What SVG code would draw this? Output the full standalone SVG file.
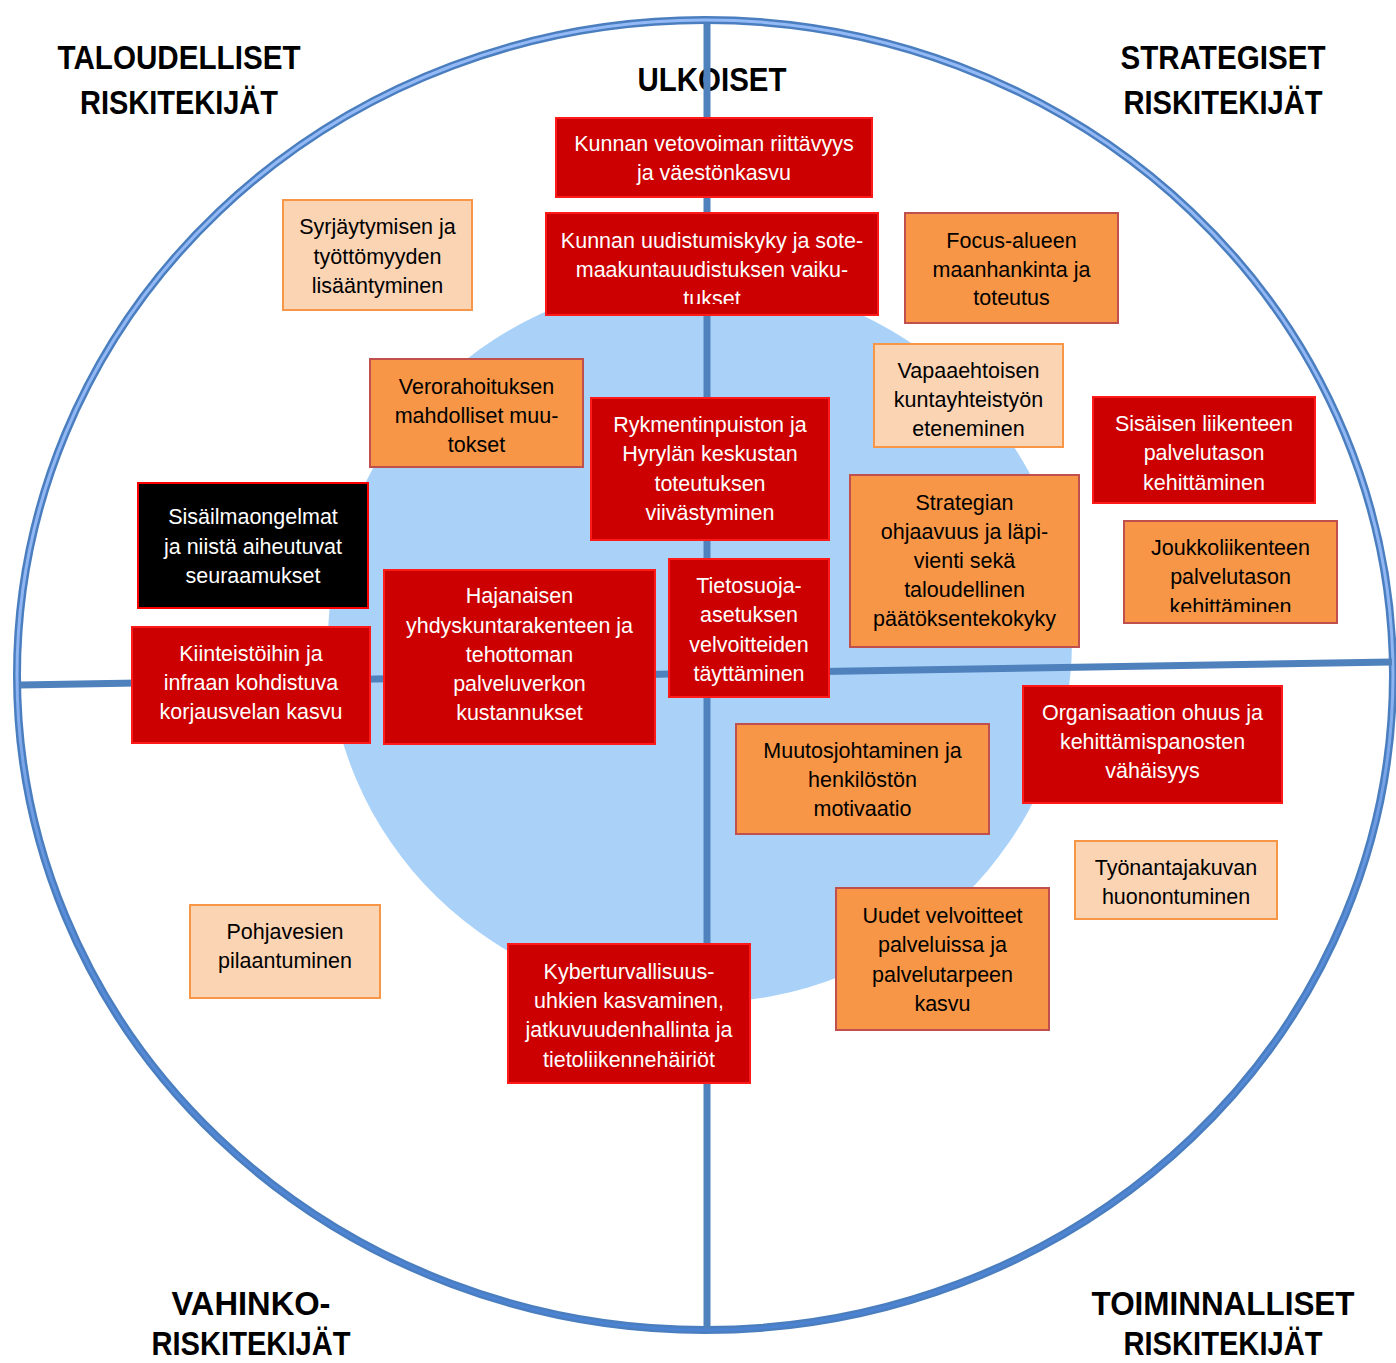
<svg xmlns="http://www.w3.org/2000/svg" width="1396" height="1363" viewBox="0 0 1396 1363">
<defs>
<linearGradient id="ringIn" x1="0" y1="0" x2="0" y2="1">
<stop offset="0" stop-color="#94b9f7"/>
<stop offset="0.5" stop-color="#8fb5f3"/>
<stop offset="0.68" stop-color="#5a8edb"/>
<stop offset="1" stop-color="#4b82d2"/>
</linearGradient>
<clipPath id="c2"><rect x="545" y="212" width="334" height="92"/></clipPath>
<clipPath id="c11"><rect x="1123" y="520" width="215" height="92"/></clipPath>
</defs>
<style>
text{font-family:"Liberation Sans",Arial,sans-serif;text-anchor:middle}
.n{font-size:21.5px}
.w{fill:#ffffff}
.k{fill:#000000}
.h{font-size:33px;font-weight:bold;fill:#000}
.red{fill:#cc0000;stroke:#ff1a1a;stroke-width:2}
.org{fill:#f79646;stroke:#c0504d;stroke-width:2}
.pch{fill:#fbd4b4;stroke:#f79646;stroke-width:2}
.blk{fill:#000000;stroke:#ff0000;stroke-width:2}
.axis{stroke:#4f81bd;stroke-width:7;fill:none}
</style>
<rect width="1396" height="1363" fill="#ffffff"/>
<g id="background">
<ellipse cx="700" cy="641" rx="372" ry="362" fill="#aad2f9"/>
<ellipse cx="705" cy="675" rx="688" ry="655" fill="none" stroke="#4a7ebf" stroke-width="8"/>
<ellipse cx="705" cy="675" rx="688" ry="655" fill="none" stroke="url(#ringIn)" stroke-width="3"/>
</g>
<g id="headings">
<text class="h" x="179" y="69" textLength="243" lengthAdjust="spacingAndGlyphs">TALOUDELLISET</text>
<text class="h" x="179" y="114" textLength="198" lengthAdjust="spacingAndGlyphs">RISKITEKIJÄT</text>
<text class="h" x="712" y="91" textLength="149" lengthAdjust="spacingAndGlyphs">ULKOISET</text>
<text class="h" x="1223" y="69" textLength="205" lengthAdjust="spacingAndGlyphs">STRATEGISET</text>
<text class="h" x="1223" y="114" textLength="199" lengthAdjust="spacingAndGlyphs">RISKITEKIJÄT</text>
<text class="h" x="251" y="1315" textLength="159" lengthAdjust="spacingAndGlyphs">VAHINKO-</text>
<text class="h" x="251" y="1355" textLength="199" lengthAdjust="spacingAndGlyphs">RISKITEKIJÄT</text>
<text class="h" x="1223" y="1315" textLength="263" lengthAdjust="spacingAndGlyphs">TOIMINNALLISET</text>
<text class="h" x="1223" y="1355" textLength="199" lengthAdjust="spacingAndGlyphs">RISKITEKIJÄT</text>
</g>
<g id="connectors">
<line class="axis" x1="707" y1="24" x2="707" y2="1329"/>
<line class="axis" x1="20" y1="685" x2="1392" y2="662"/>
</g>
<g id="n1"><rect class="red" x="556" y="118" width="316" height="79"/>
<text class="n w" x="714" y="151">Kunnan vetovoiman riittävyys</text>
<text class="n w" x="714" y="180">ja väestönkasvu</text></g>
<g id="n2"><rect class="red" x="546" y="213" width="332" height="102"/>
<g clip-path="url(#c2)">
<text class="n w" x="712" y="248">Kunnan uudistumiskyky ja sote-</text>
<text class="n w" x="712" y="277">maakuntauudistuksen vaiku-</text>
<text class="n w" x="712" y="306">tukset</text></g></g>
<g id="n3"><rect class="pch" x="283" y="200" width="189" height="110"/>
<text class="n k" x="377.5" y="234">Syrjäytymisen ja</text>
<text class="n k" x="377.5" y="264">työttömyyden</text>
<text class="n k" x="377.5" y="293">lisääntyminen</text></g>
<g id="n4"><rect class="org" x="905" y="213" width="213" height="110"/>
<text class="n k" x="1011.5" y="248">Focus-alueen</text>
<text class="n k" x="1011.5" y="277">maanhankinta ja</text>
<text class="n k" x="1011.5" y="305">toteutus</text></g>
<g id="n5"><rect class="pch" x="874" y="344" width="189" height="103"/>
<text class="n k" x="968.5" y="378">Vapaaehtoisen</text>
<text class="n k" x="968.5" y="407">kuntayhteistyön</text>
<text class="n k" x="968.5" y="436">eteneminen</text></g>
<g id="n6"><rect class="org" x="370" y="359" width="213" height="108"/>
<text class="n k" x="476.5" y="394">Verorahoituksen</text>
<text class="n k" x="476.5" y="423">mahdolliset muu-</text>
<text class="n k" x="476.5" y="452">tokset</text></g>
<g id="n7"><rect class="red" x="591" y="398" width="238" height="142"/>
<text class="n w" x="710" y="432">Rykmentinpuiston ja</text>
<text class="n w" x="710" y="461">Hyrylän keskustan</text>
<text class="n w" x="710" y="491">toteutuksen</text>
<text class="n w" x="710" y="520">viivästyminen</text></g>
<g id="n8"><rect class="red" x="1093" y="397" width="222" height="106"/>
<text class="n w" x="1204" y="431">Sisäisen liikenteen</text>
<text class="n w" x="1204" y="460">palvelutason</text>
<text class="n w" x="1204" y="490">kehittäminen</text></g>
<g id="n9"><rect class="blk" x="138" y="483" width="230" height="125"/>
<text class="n w" x="253" y="524">Sisäilmaongelmat</text>
<text class="n w" x="253" y="554">ja niistä aiheutuvat</text>
<text class="n w" x="253" y="583">seuraamukset</text></g>
<g id="n10"><rect class="org" x="850" y="475" width="229" height="172"/>
<text class="n k" x="964.5" y="510">Strategian</text>
<text class="n k" x="964.5" y="539">ohjaavuus ja läpi-</text>
<text class="n k" x="964.5" y="568">vienti sekä</text>
<text class="n k" x="964.5" y="597">taloudellinen</text>
<text class="n k" x="964.5" y="626">päätöksentekokyky</text></g>
<g id="n11"><rect class="org" x="1124" y="521" width="213" height="102"/>
<g clip-path="url(#c11)">
<text class="n k" x="1230.5" y="555">Joukkoliikenteen</text>
<text class="n k" x="1230.5" y="584">palvelutason</text>
<text class="n k" x="1230.5" y="614">kehittäminen</text></g></g>
<g id="n12"><rect class="red" x="669" y="559" width="160" height="138"/>
<text class="n w" x="749" y="593">Tietosuoja-</text>
<text class="n w" x="749" y="622">asetuksen</text>
<text class="n w" x="749" y="652">velvoitteiden</text>
<text class="n w" x="749" y="681">täyttäminen</text></g>
<g id="n13"><rect class="red" x="384" y="570" width="271" height="174"/>
<text class="n w" x="519.5" y="603">Hajanaisen</text>
<text class="n w" x="519.5" y="633">yhdyskuntarakenteen ja</text>
<text class="n w" x="519.5" y="662">tehottoman</text>
<text class="n w" x="519.5" y="691">palveluverkon</text>
<text class="n w" x="519.5" y="720">kustannukset</text></g>
<g id="n14"><rect class="red" x="132" y="627" width="238" height="116"/>
<text class="n w" x="251" y="661">Kiinteistöihin ja</text>
<text class="n w" x="251" y="690">infraan kohdistuva</text>
<text class="n w" x="251" y="719">korjausvelan kasvu</text></g>
<g id="n15"><rect class="red" x="1023" y="686" width="259" height="117"/>
<text class="n w" x="1152.5" y="720">Organisaation ohuus ja</text>
<text class="n w" x="1152.5" y="749">kehittämispanosten</text>
<text class="n w" x="1152.5" y="778">vähäisyys</text></g>
<g id="n16"><rect class="org" x="736" y="724" width="253" height="110"/>
<text class="n k" x="862.5" y="758">Muutosjohtaminen ja</text>
<text class="n k" x="862.5" y="787">henkilöstön</text>
<text class="n k" x="862.5" y="816">motivaatio</text></g>
<g id="n17"><rect class="pch" x="1075" y="841" width="202" height="78"/>
<text class="n k" x="1176" y="875">Työnantajakuvan</text>
<text class="n k" x="1176" y="904">huonontuminen</text></g>
<g id="n18"><rect class="org" x="836" y="888" width="213" height="142"/>
<text class="n k" x="942.5" y="923">Uudet velvoitteet</text>
<text class="n k" x="942.5" y="952">palveluissa ja</text>
<text class="n k" x="942.5" y="982">palvelutarpeen</text>
<text class="n k" x="942.5" y="1011">kasvu</text></g>
<g id="n19"><rect class="pch" x="190" y="905" width="190" height="93"/>
<text class="n k" x="285" y="939">Pohjavesien</text>
<text class="n k" x="285" y="968">pilaantuminen</text></g>
<g id="n20"><rect class="red" x="508" y="944" width="242" height="139"/>
<text class="n w" x="629" y="979">Kyberturvallisuus-</text>
<text class="n w" x="629" y="1008">uhkien kasvaminen,</text>
<text class="n w" x="629" y="1037">jatkuvuudenhallinta ja</text>
<text class="n w" x="629" y="1067">tietoliikennehäiriöt</text></g>
</svg>
